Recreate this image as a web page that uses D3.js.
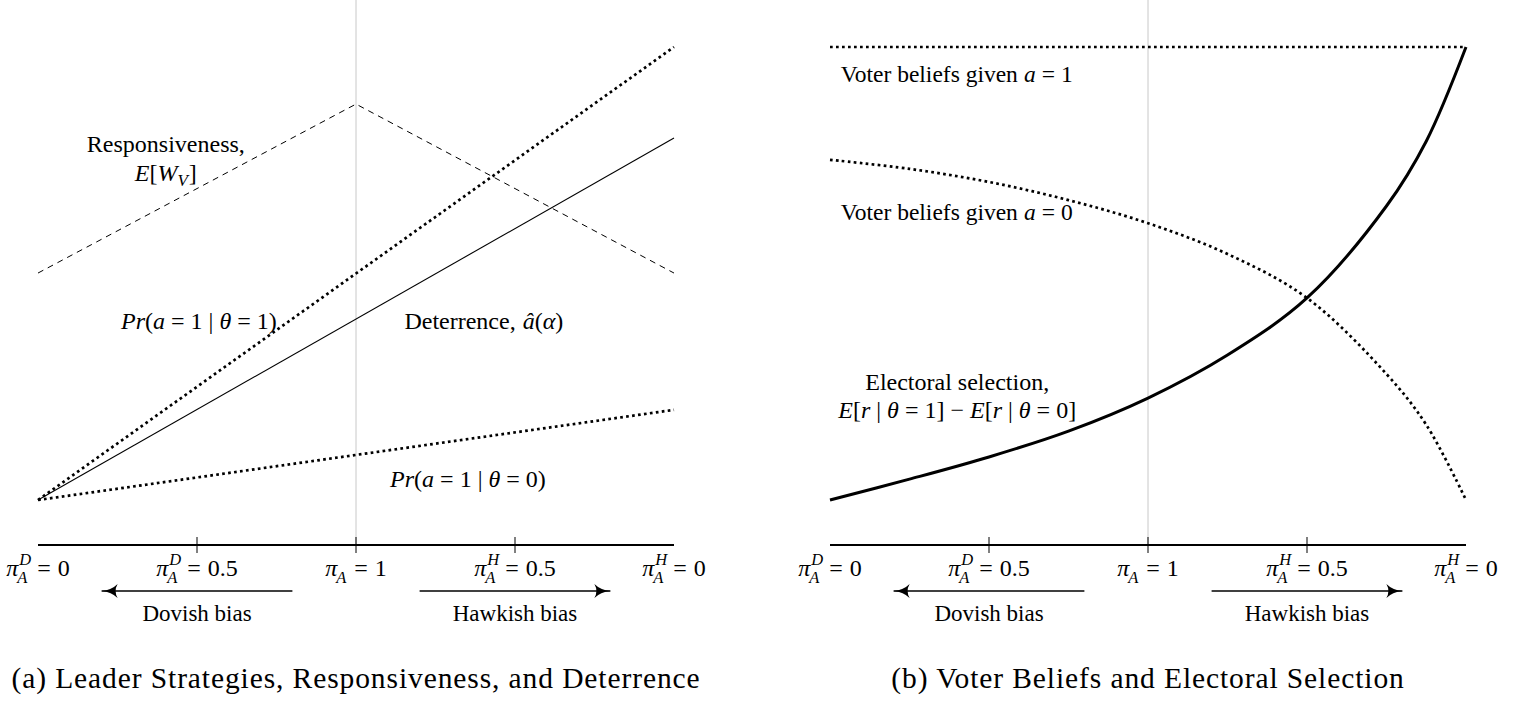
<!DOCTYPE html>
<meta charset="utf-8">
<script src="https://d3js.org/d3.v7.min.js"></script>
<style>
  body { margin: 0; background: #fff; }
</style>
<div id="chart"></div>
<script>

// ---- data ----
// x positions along the bias axis (0 = full dovish, 0.5 = unbiased, 1 = full hawkish)
var tickPos = [0, 0.25, 0.5, 0.75, 1];
var tickSup = ["D", "D", "", "H", "H"];
var tickVal = ["0", "0.5", "1", "0.5", "0"];

// panel (a): straight segments
var respX = [0, 0.5, 1];
var respY = [0.501, 0.874, 0.501];        // responsiveness E[W_V]
var lineX = [0, 1];
var prTheta1 = [0, 1];                     // Pr(a=1 | theta=1)
var deterrence = [0, 0.799];               // deterrence a-hat(alpha)
var prTheta0 = [0, 0.199];                 // Pr(a=1 | theta=0)

// panel (b): curves
var curveX = [0, 0.125, 0.25, 0.375, 0.5, 0.625, 0.75, 0.875, 0.9375, 1];
var beliefA1 = [1, 1];                     // voter beliefs given a=1 (on lineX)
var beliefA0 = [0.751, 0.731, 0.702, 0.662, 0.611, 0.543, 0.446, 0.278, 0.166, 0];
var selection = [0, 0.046, 0.095, 0.152, 0.225, 0.320, 0.446, 0.649, 0.792, 1];

// ---- layout ----
var width = 1528, height = 702;
var axisY = 545;
var FONT = "Liberation Serif";
var svg = d3.select("#chart").append("svg")
    .attr("width", width)
    .attr("height", height);

var y = d3.scaleLinear().domain([0, 1]).range([500, 47]);
var xa = d3.scaleLinear().domain([0, 1]).range([38, 674]);
var xb = d3.scaleLinear().domain([0, 1]).range([830, 1466]);

// arrow head
svg.append("defs").append("marker")
    .attr("id", "head")
    .attr("markerUnits", "userSpaceOnUse")
    .attr("viewBox", "0 0 17 15")
    .attr("refX", 16).attr("refY", 7.5)
    .attr("markerWidth", 17).attr("markerHeight", 15)
    .attr("orient", "auto")
  .append("path")
    .attr("d", "M0,0.5 Q6,6.5 16,7.5 Q6,8.5 0,14.5 Q4,7.5 0,0.5 Z")
    .attr("fill", "#000");

function zipXY(xs, ys) {
    return xs.map(function(d, i) { return [d, ys[i]]; });
}

// math-like text: pieces are [text, italic, gapBefore, dy, size]
function mathText(parent, x, yy, anchor, size, pieces) {
    var t = parent.append("text")
        .attr("x", x).attr("y", yy)
        .attr("text-anchor", anchor)
        .attr("font-family", FONT)
        .attr("font-size", size);
    pieces.forEach(function(p) {
        var s = t.append("tspan")
            .attr("font-style", p[1] ? "italic" : "normal")
            .text(p[0]);
        if (p[2]) s.attr("dx", p[2]);
        if (p[3]) s.attr("dy", p[3]);
        if (p[4]) s.attr("font-size", p[4]);
    });
    return t;
}

// pi_A^D = 0 style label, built from measured pieces
function tickLabel(g, cx, base, sup, val) {
    var big = 24, small = 16.5, gap = 7;
    function txt(s, size, it) {
        return g.append("text").attr("font-family", FONT)
            .attr("font-size", size)
            .attr("font-style", it ? "italic" : "normal").text(s);
    }
    var pi = txt("π", big, true);
    var sub = txt("A", small, true);
    var sp = txt(sup, small, true);
    var eq = txt("=", big, false);
    var v = txt(val, big, false);
    var wPi = pi.node().getComputedTextLength();
    var wS = Math.max(sub.node().getComputedTextLength(),
                      sup ? sp.node().getComputedTextLength() : 0);
    var wEq = eq.node().getComputedTextLength();
    var wV = v.node().getComputedTextLength();
    var total = wPi + wS + gap + wEq + gap + wV;
    var x0 = cx - total / 2;
    pi.attr("x", x0).attr("y", base);
    sub.attr("x", x0 + wPi - 1).attr("y", base + 7);
    sp.attr("x", x0 + wPi + 1).attr("y", base - 11);
    eq.attr("x", x0 + wPi + wS + gap).attr("y", base);
    v.attr("x", x0 + wPi + wS + gap + wEq + gap).attr("y", base);
}

function drawAxis(g, x) {
    // grey reference line at the unbiased point
    g.append("line")
        .attr("x1", x(0.5)).attr("x2", x(0.5))
        .attr("y1", 0).attr("y2", axisY)
        .attr("stroke", "#c8c8c8").attr("stroke-width", 1);

    g.append("line")
        .attr("x1", x(0)).attr("x2", x(1))
        .attr("y1", axisY).attr("y2", axisY)
        .attr("stroke", "#000").attr("stroke-width", 2);

    g.selectAll(".tick")
        .data(tickPos.slice(1, 4))
        .enter().append("line")
        .attr("x1", function(d) { return x(d); })
        .attr("x2", function(d) { return x(d); })
        .attr("y1", axisY - 8).attr("y2", axisY + 8)
        .attr("stroke", "#000").attr("stroke-width", 1);

    tickPos.forEach(function(d, i) {
        tickLabel(g, x(d), 576, tickSup[i], tickVal[i]);
    });

    // bias arrows
    g.append("line")
        .attr("x1", x(0.4)).attr("x2", x(0.1))
        .attr("y1", 591).attr("y2", 591)
        .attr("stroke", "#000").attr("stroke-width", 1.6)
        .attr("marker-end", "url(#head)");
    g.append("line")
        .attr("x1", x(0.6)).attr("x2", x(0.9))
        .attr("y1", 591).attr("y2", 591)
        .attr("stroke", "#000").attr("stroke-width", 1.6)
        .attr("marker-end", "url(#head)");

    mathText(g, x(0.25), 621, "middle", 23, [["Dovish bias", 0]]);
    mathText(g, x(0.75), 621, "middle", 23, [["Hawkish bias", 0]]);
}

var dotted = { w: 2.7, dash: "2.7,3.3" };
var G = 6; // math spacing around relations

// ---------------- panel (a) ----------------
var ga = svg.append("g");
drawAxis(ga, xa);

var lineA = d3.line()
    .x(function(d) { return xa(d[0]); })
    .y(function(d) { return y(d[1]); });

ga.append("path")
    .attr("d", lineA(zipXY(respX, respY)))
    .attr("fill", "none").attr("stroke", "#000")
    .attr("stroke-width", 1).attr("stroke-dasharray", "6,5");

ga.append("path")
    .attr("d", lineA(zipXY(lineX, prTheta1)))
    .attr("fill", "none").attr("stroke", "#000")
    .attr("stroke-width", dotted.w).attr("stroke-dasharray", dotted.dash);

ga.append("path")
    .attr("d", lineA(zipXY(lineX, deterrence)))
    .attr("fill", "none").attr("stroke", "#000")
    .attr("stroke-width", 1.1);

ga.append("path")
    .attr("d", lineA(zipXY(lineX, prTheta0)))
    .attr("fill", "none").attr("stroke", "#000")
    .attr("stroke-width", dotted.w).attr("stroke-dasharray", dotted.dash);

// annotations (a)
mathText(ga, xa(0.201), 152, "middle", 24, [["Responsiveness,", 0]]);
mathText(ga, xa(0.201), 181, "middle", 24, [
    ["E", 1], ["[", 0], ["W", 1], ["V", 1, 0, 5, 17], ["]", 0, 1, -5]]);

function prPieces(th) {
    return [["Pr", 1], ["(", 0], ["a", 1], ["=", 0, G], ["1", 0, G], ["|", 0, G],
            ["θ", 1, G], ["=", 0, G], [th, 0, G], [")", 0]];
}
mathText(ga, xa(0.253), 329, "middle", 24, prPieces("1"));
mathText(ga, xa(0.676), 487, "middle", 24, prPieces("0"));
mathText(ga, xa(0.701), 329, "middle", 24, [
    ["Deterrence,", 0], ["â", 1, 7], ["(", 0], ["α", 1], [")", 0]]);

svg.append("text")
    .attr("x", xa(0.5)).attr("y", 688)
    .attr("text-anchor", "middle")
    .attr("font-family", FONT)
    .attr("font-size", 29.5)
    .attr("letter-spacing", 0.9)
    .text("(a) Leader Strategies, Responsiveness, and Deterrence");

// ---------------- panel (b) ----------------
var gb = svg.append("g");
drawAxis(gb, xb);

var lineB = d3.line()
    .x(function(d) { return xb(d[0]); })
    .y(function(d) { return y(d[1]); })
    .curve(d3.curveCatmullRom.alpha(0.5));

gb.append("path")
    .attr("d", lineB(zipXY(lineX, beliefA1)))
    .attr("fill", "none").attr("stroke", "#000")
    .attr("stroke-width", dotted.w).attr("stroke-dasharray", dotted.dash);

gb.append("path")
    .attr("d", lineB(zipXY(curveX, beliefA0)))
    .attr("fill", "none").attr("stroke", "#000")
    .attr("stroke-width", dotted.w).attr("stroke-dasharray", dotted.dash);

gb.append("path")
    .attr("d", lineB(zipXY(curveX, selection)))
    .attr("fill", "none").attr("stroke", "#000")
    .attr("stroke-width", 3);

function voterPieces(v) {
    return [["Voter beliefs given", 0], ["a", 1, 6], ["=", 0, G], [v, 0, G]];
}
mathText(gb, xb(0.017), 82, "start", 23.5, voterPieces("1"));
mathText(gb, xb(0.017), 220, "start", 23.5, voterPieces("0"));

mathText(gb, xb(0.2), 390, "middle", 24, [["Electoral selection,", 0]]);
mathText(gb, xb(0.2), 418, "middle", 24, [
    ["E", 1], ["[", 0], ["r", 1], ["|", 0, G], ["θ", 1, G], ["=", 0, G], ["1", 0, G], ["]", 0],
    ["−", 0, G], ["E", 1, G], ["[", 0], ["r", 1], ["|", 0, G], ["θ", 1, G], ["=", 0, G],
    ["0", 0, G], ["]", 0]]);

svg.append("text")
    .attr("x", xb(0.5)).attr("y", 688)
    .attr("text-anchor", "middle")
    .attr("font-family", FONT)
    .attr("font-size", 29.5)
    .attr("letter-spacing", 0.9)
    .text("(b) Voter Beliefs and Electoral Selection");

</script>
